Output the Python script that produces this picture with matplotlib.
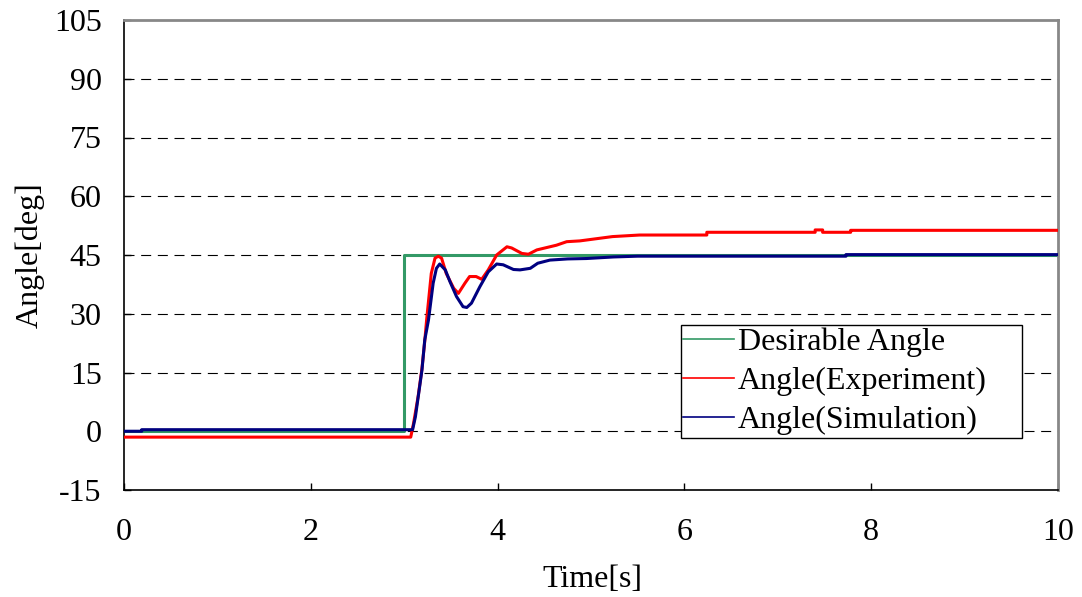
import matplotlib
matplotlib.use("Agg")
import matplotlib.pyplot as plt

plt.rcParams['font.family'] = ['Liberation Serif', 'DejaVu Serif']
plt.rcParams['axes.unicode_minus'] = False

# Data
desired_t = [0, 3.0, 3.0, 10]
desired_v = [0, 0, 45, 45]

exp_t = [0, 3.07, 3.10, 3.15, 3.19, 3.22, 3.24, 3.29, 3.33, 3.365, 3.40, 3.45, 3.53,
         3.58, 3.65, 3.70, 3.77, 3.83, 3.90, 3.99, 4.10, 4.15, 4.26, 4.33, 4.42,
         4.49, 4.63, 4.74, 4.88, 5.23, 5.52, 6.24, 6.24, 7.40, 7.40, 7.48, 7.48,
         7.78, 7.78, 10]
exp_v = [-1.5, -1.5, 2.0, 9.0, 16.0, 23.0, 28.4, 40.3, 44.2, 44.7, 44.2, 40.3, 36.5,
         35.2, 37.8, 39.5, 39.5, 38.8, 41.2, 45.0, 47.1, 46.8, 45.4, 45.2, 46.3,
         46.7, 47.5, 48.4, 48.6, 49.7, 50.1, 50.1, 50.8, 50.8, 51.4, 51.4, 50.8,
         50.8, 51.3, 51.3]

sim_t = [0, 0.19, 0.19, 3.09, 3.12, 3.15, 3.19, 3.22, 3.26, 3.31, 3.345, 3.38, 3.44,
         3.49, 3.56, 3.63, 3.67, 3.72, 3.81, 3.90, 3.99, 4.06, 4.17, 4.24, 4.35,
         4.43, 4.56, 4.75, 4.95, 5.24, 5.5, 7.73, 7.73, 10]
sim_v = [0, 0, 0.4, 0.4, 3.7, 8.8, 15.6, 23.3, 28.4, 37.8, 41.6, 42.7, 41.2,
         38.2, 34.4, 31.8, 31.6, 32.7, 36.9, 40.7, 42.7, 42.5, 41.3, 41.2, 41.6,
         42.9, 43.7, 44.0, 44.1, 44.5, 44.7, 44.7, 45.1, 45.1]

labels = ["Desirable Angle", "Angle(Experiment)", "Angle(Simulation)"]
y_ticks = [-15, 0, 15, 30, 45, 60, 75, 90, 105]
x_ticks = [0, 2, 4, 6, 8, 10]

FS = 23

fig = plt.figure(figsize=(10.82, 5.97), dpi=100)
ax = fig.add_axes([124/1082, 107/597, 934/1082, 470/597])

for y in y_ticks[1:-1]:
    ax.axhline(y, color='black', lw=0.8, linestyle=(0, (9, 6)), zorder=1)

ax.plot(desired_t, desired_v, color='#339966', lw=2.2, label=labels[0], zorder=2)
ax.plot(exp_t, exp_v, color='#FF0000', lw=2.2, label=labels[1], zorder=3)
ax.plot(sim_t, sim_v, color='#000080', lw=2.2, label=labels[2], zorder=4)

ax.set_xlim(0, 10)
ax.set_ylim(-15, 105)
ax.set_xticks(x_ticks)
ax.set_yticks(y_ticks)
ax.tick_params(axis='both', direction='in', labelsize=FS, length=5, width=1)
ax.tick_params(axis='x', pad=20)
ax.tick_params(axis='y', pad=16)

for side in ['left', 'bottom']:
    ax.spines[side].set_color('black')
    ax.spines[side].set_linewidth(1.2)
for side in ['top', 'right']:
    ax.spines[side].set_color('#888888')
    ax.spines[side].set_linewidth(2)

ax.set_xlabel("Time[s]", fontsize=FS)
ax.xaxis.set_label_coords(0.502, -0.19)
ax.xaxis.label.set_va('center')
ax.set_ylabel("Angle[deg]", fontsize=FS)
ax.yaxis.set_label_coords(-0.1006, 0.5)
ax.yaxis.label.set_va('center')

leg = ax.legend(loc='lower left', bbox_to_anchor=(0.596, 0.111, 0.365, 0.242),
                mode='expand', borderaxespad=0, fontsize=FS, handlelength=1.6,
                handletextpad=0.1, labelspacing=0.31, borderpad=0.08,
                fancybox=False, framealpha=1, edgecolor='black')
leg.get_frame().set_linewidth(1)
for h in leg.get_lines():
    h.set_linewidth(1.2)

fig.savefig("out.png", dpi=100)
